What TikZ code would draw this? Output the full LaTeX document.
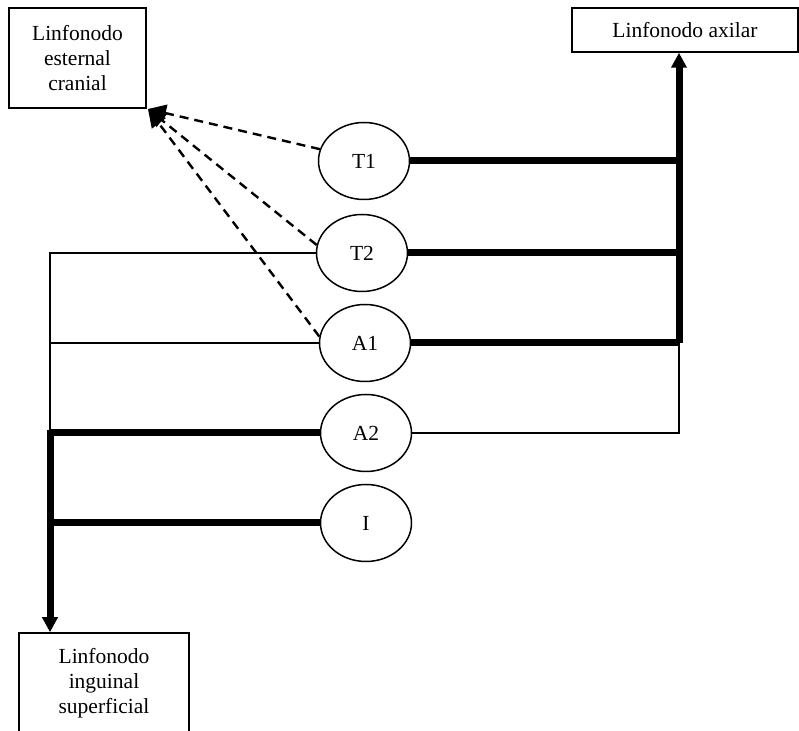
\documentclass[tikz,border=0pt]{standalone}
\usepackage{fontspec}
\setmainfont{Liberation Serif}
\usetikzlibrary{shapes.geometric,arrows.meta}
\begin{document}
\begin{tikzpicture}[x=0.5pt,y=-0.5pt]
	\tikzstyle{region}=[ellipse,draw=black,line width=0.75pt,minimum width=45.5pt,minimum height=38.5pt,inner sep=0pt,font=\fontsize{10.75}{12.5}\selectfont]
	\tikzstyle{lymph}=[rectangle,draw=black,line width=0.75pt,inner sep=0pt,align=center,font=\fontsize{10.75}{12.5}\selectfont]
	\tikzstyle{mainedge}=[draw=black,line width=3.5pt]
	\tikzstyle{minoredge}=[draw=black,line width=0.75pt]
	\tikzstyle{sideedge}=[draw=black,line width=1.2pt,dash pattern=on 4.5pt off 3pt,-{Triangle[length=9pt,width=8.5pt]}]
	\useasboundingbox (0,0) rectangle (799,731);

	\node [lymph,minimum width=68.5pt,minimum height=50pt] (est) at (77.5,58) {Linfonodo\\esternal\\cranial};
	\node [lymph,minimum width=113pt,minimum height=22pt] (axi) at (685,30) {Linfonodo axilar};
	\node [lymph,minimum width=85pt,minimum height=50pt] (ing) at (104,683) {Linfonodo\\inguinal\\superficial};

	\node [region] (T1) at (364,161) {T1};
	\node [region] (T2) at (362,253) {T2};
	\node [region] (A1) at (365,343) {A1};
	\node [region] (A2) at (366,433) {A2};
	\node [region] (I) at (366,523) {I};

	\coordinate (rb) at (679,343);
	\coordinate (lt) at (50,253);
	\coordinate (lm) at (50,433);
	\coordinate (tip) at (148,109);

	% al linfonodo axilar
	\path[mainedge] (T1.east) -- (T1.east -| rb);
	\path[mainedge] (T2.east) -- (T2.east -| rb);
	\path[mainedge] (A1.east) -- (rb);
	\path[mainedge,-{Triangle[length=7.5pt,width=7.5pt]}] (rb) -- (rb |- axi.south);
	\path[minoredge] (A2.east) -| (rb);

	% al linfonodo inguinal
	\path[minoredge] (T2.west) -- (T2.west -| lt) -- (lm);
	\path[minoredge] (A1.west) -- (A1.west -| lt);
	\path[mainedge] (A2.west) -- (lm);
	\path[mainedge] (I.west) -- (I.west -| lm);
	\path[mainedge,-{Triangle[length=7.5pt,width=7.5pt]}] ([yshift=1.5pt]lm) -- (lm |- ing.north);

	% al linfonodo esternal
	\path[sideedge] (T1.165) -- (tip);
	\path[sideedge] (T2.170) -- (tip);
	\path[sideedge] (A1.172) -- (tip);
\end{tikzpicture}
\end{document}
